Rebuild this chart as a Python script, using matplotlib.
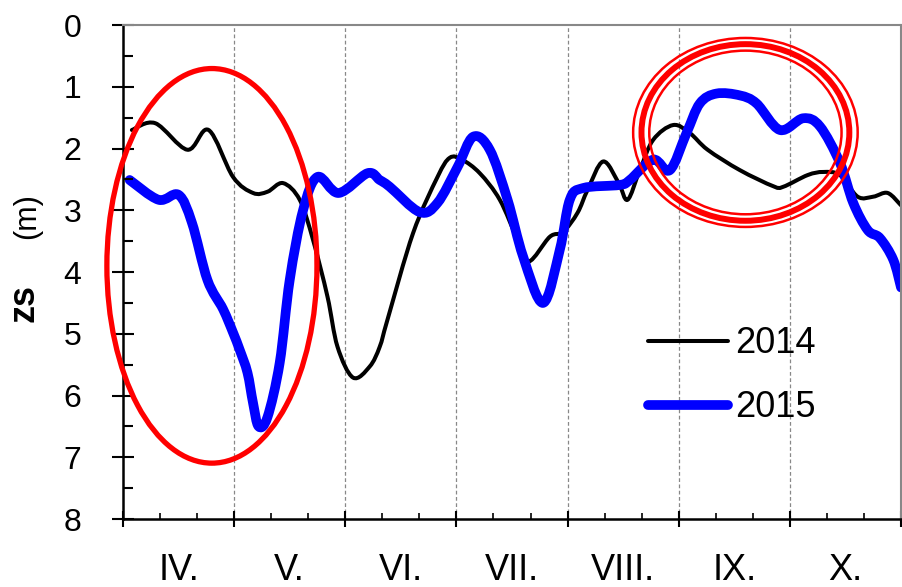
import numpy as np
import matplotlib
matplotlib.use('Agg')
import matplotlib.pyplot as plt
from matplotlib.patches import Ellipse, PathPatch
from matplotlib.path import Path
from matplotlib.lines import Line2D
from matplotlib.ticker import MultipleLocator

plt.rcParams['font.family'] = ['Liberation Sans', 'DejaVu Sans']

# month position (0 = start of April, 7 = end of October), depth zs in m
m_2014 = [0.08, 0.29, 0.58, 0.77, 0.99, 1.17, 1.30, 1.44, 1.59, 1.71, 1.84, 1.93,
          2.07, 2.22, 2.31, 2.38, 2.61, 2.83, 2.94, 3.05, 3.21, 3.39, 3.55, 3.65,
          3.84, 3.96, 4.09, 4.18, 4.32, 4.46, 4.54, 4.65, 4.77, 4.95, 5.10, 5.26,
          5.55, 5.85, 5.94, 6.16, 6.30, 6.45, 6.61, 6.75, 6.88, 7.00]
zs_2014 = [1.70, 1.59, 2.02, 1.70, 2.46, 2.72, 2.70, 2.56, 2.83, 3.48, 4.40, 5.21,
           5.71, 5.53, 5.21, 4.77, 3.37, 2.46, 2.15, 2.18, 2.40, 2.83, 3.48, 3.83,
           3.43, 3.35, 3.04, 2.67, 2.21, 2.56, 2.83, 2.35, 1.86, 1.62, 1.75, 2.02,
           2.35, 2.61, 2.62, 2.43, 2.38, 2.43, 2.78, 2.78, 2.72, 2.92]

m_2015 = [0.06, 0.32, 0.50, 0.62, 0.76, 0.90, 0.99, 1.05, 1.12, 1.17, 1.22, 1.30,
          1.41, 1.50, 1.62, 1.75, 1.94, 2.20, 2.31, 2.40, 2.67, 2.83, 3.01, 3.15,
          3.30, 3.46, 3.60, 3.78, 3.93, 4.02, 4.14, 4.47, 4.56, 4.77, 4.92, 5.07,
          5.19, 5.34, 5.55, 5.70, 5.91, 6.12, 6.27, 6.45, 6.57, 6.70, 6.81, 6.93,
          7.00]
zs_2015 = [2.51, 2.83, 2.75, 3.20, 4.13, 4.60, 4.98, 5.26, 5.63, 6.12, 6.50, 6.35,
           5.47, 4.13, 3.00, 2.46, 2.72, 2.40, 2.51, 2.62, 3.03, 2.88, 2.30, 1.81,
           2.02, 2.83, 3.75, 4.50, 3.64, 2.83, 2.64, 2.59, 2.51, 2.18, 2.35, 1.75,
           1.27, 1.11, 1.14, 1.27, 1.70, 1.51, 1.64, 2.23, 2.88, 3.32, 3.45, 3.80,
           4.25]

months = ['IV.', 'V.', 'VI.', 'VII.', 'VIII.', 'IX.', 'X.']


def smooth_path(x, y):
    # smooth curve through the points (Catmull-Rom as cubic Bezier)
    pts = np.column_stack([np.asarray(x, float), np.asarray(y, float)])
    verts = [pts[0]]
    codes = [Path.MOVETO]
    n = len(pts)
    for i in range(n - 1):
        p0 = pts[max(i - 1, 0)]
        p1 = pts[i]
        p2 = pts[i + 1]
        p3 = pts[min(i + 2, n - 1)]
        verts += [p1 + (p2 - p0) / 6, p2 - (p3 - p1) / 6, p2]
        codes += [Path.CURVE4] * 3
    return Path(verts, codes)


fig = plt.figure(figsize=(9.03, 5.87), dpi=100)
ax = fig.add_axes([0.1362, 0.1158, 0.8616, 0.8416])

ax.add_patch(PathPatch(smooth_path(m_2014, zs_2014), fill=False, ec='black',
                       lw=2.9, joinstyle='round', capstyle='round'))
ax.add_patch(PathPatch(smooth_path(m_2015, zs_2015), fill=False, ec='#0000ff',
                       lw=7, joinstyle='round', capstyle='round'))

ax.set_xlim(0, 7)
ax.set_ylim(8, 0)

# month separators
for b in range(1, 7):
    ax.axvline(b, color='#888888', lw=0.9, ls=(0, (3, 2)), zorder=0)

ax.xaxis.set_major_locator(MultipleLocator(1))
ax.xaxis.set_minor_locator(MultipleLocator(1 / 3))
ax.yaxis.set_major_locator(MultipleLocator(1))
ax.yaxis.set_minor_locator(MultipleLocator(0.5))
ax.tick_params(axis='x', which='major', direction='inout', length=11, width=1.5,
               labelbottom=False)
ax.tick_params(axis='x', which='minor', direction='in', length=4.5, width=1.2)
ax.tick_params(axis='y', which='major', direction='inout', length=16, width=1.5,
               labelsize=23, pad=22)
ax.tick_params(axis='y', which='minor', direction='in', length=7, width=1.5)

for i, name in enumerate(months):
    ax.text(i + 0.5, -0.069, name, transform=ax.get_xaxis_transform(),
            ha='center', va='top', fontsize=26)

for s in ['left', 'bottom']:
    ax.spines[s].set_linewidth(1.8)
for s in ['top', 'right']:
    ax.spines[s].set_color('#888888')
    ax.spines[s].set_linewidth(1.5)

fig.text(24 / 903, 1 - 303 / 587, 'zs', rotation=90, ha='center', va='center',
         fontsize=26, fontweight='bold')
fig.text(27.5 / 903, 1 - 216 / 587, '(m)', rotation=90, ha='center', va='center',
         fontsize=22)

handles = [Line2D([], [], color='black', lw=2.9, solid_capstyle='round'),
           Line2D([], [], color='#0000ff', lw=7, solid_capstyle='round')]
ax.legend(handles, ['2014', '2015'], loc='upper left',
          bbox_to_anchor=(0.675, 0.39), frameon=False,
          fontsize=26, handlelength=2.2, handletextpad=0.2, labelspacing=0.8,
          borderpad=0, borderaxespad=0)

# red highlight ellipses
ax.add_patch(Ellipse((0.80, 3.90), 1.89, 6.39, fill=False, ec='red', lw=3.8,
                     clip_on=False, zorder=5))
for w, h, lw in [(2.02, 3.06, 1.8), (1.87, 2.86, 4.3), (1.73, 2.65, 1.8)]:
    ax.add_patch(Ellipse((5.60, 1.74), w, h, fill=False, ec='red', lw=lw,
                         clip_on=False, zorder=5))

fig.savefig('out.png', dpi=100)
